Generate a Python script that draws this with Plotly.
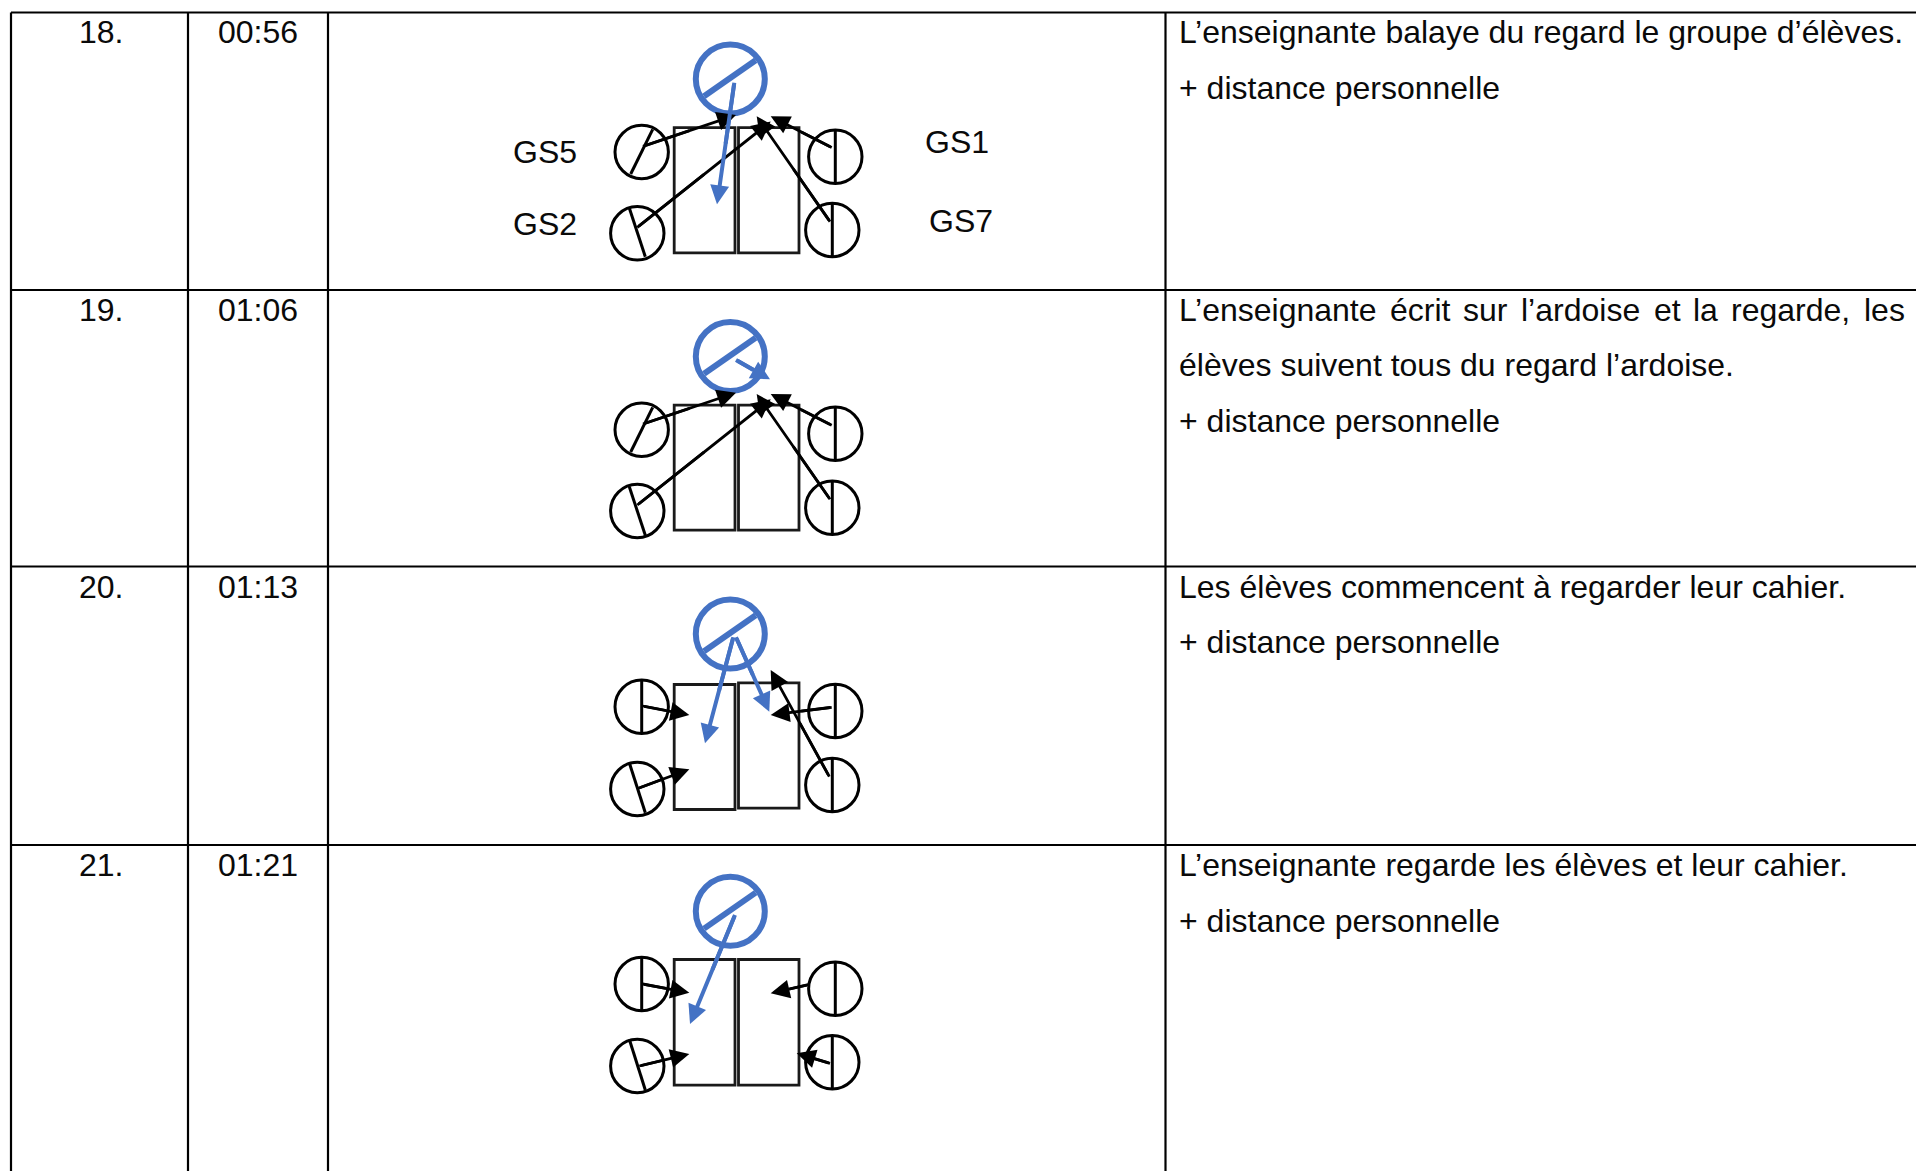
import plotly.graph_objects as go

W, H = 1916, 1171
BLACK = "#000000"
BLUE = "#4472C4"
FONT = "Liberation Sans"
FS = 32

# table frame
col_x = [11, 188, 328, 1165.5]
row_y = [12.5, 290, 566.5, 845]

# cell text
numbers = ["18.", "19.", "20.", "21."]
times = ["00:56", "01:06", "01:13", "01:21"]
id_y = [32, 310, 587, 865]
id_x = [100.5, 257.7]

text_x = 1176.5
plain_lines = [
    ("L\u2019enseignante balaye du regard le groupe d\u2019\u00e9l\u00e8ves.", 32),
    ("+ distance personnelle", 88),
    ("\u00e9l\u00e8ves suivent tous du regard l\u2019ardoise.", 365),
    ("+ distance personnelle", 421),
    ("Les \u00e9l\u00e8ves commencent \u00e0 regarder leur cahier.", 587),
    ("+ distance personnelle", 642),
    ("L\u2019enseignante regarde les \u00e9l\u00e8ves et leur cahier.", 865),
    ("+ distance personnelle", 921),
]
just_words = ["L\u2019enseignante", "\u00e9crit", "sur", "l\u2019ardoise", "et", "la", "regarde,", "les"]
just_x = [1176.5, 1387.5, 1461, 1518.5, 1651.5, 1691, 1729, 1861.5]
just_y = 310

gs_labels = ["GS5", "GS2", "GS1", "GS7"]
gs_x = [545.3, 545.3, 956.5, 961]
gs_y = [152, 223.5, 141.7, 220.5]

# tables (rectangles): x0, x1 shared; y0, y1 per diagram
left_table_x = (674.2, 735)
right_table_x = (738.5, 799)
left_table_y = [(127.6, 252.9), (405.2, 530.2), (684.5, 809.5), (959.5, 1085.2)]
right_table_y = [(127.6, 252.9), (405.2, 530.2), (682.9, 808.2), (959.5, 1085.2)]

# teacher
teacher_cx = 730.3
teacher_cy = [79, 356.5, 634, 911.3]
teacher_r = 34.5
teacher_bar_dx = (-26.3, 25.4)
teacher_bar_dy = (17.3, -18.7)

# pupils: centre x per pupil, centre y per diagram
pupil_r = 26.7
pupil_cx = [641.7, 637.3, 835.3, 832.3]
pupil_cy = [
    [152, 233.3, 156.7, 230],
    [429.7, 511, 433.7, 507.7],
    [706.7, 789, 711, 785],
    [984, 1066, 988.7, 1062.3],
]
# body line of each pupil circle per diagram (x0, y0, x1, y1)
pupil_bars = [
    [(652.7, 129.3, 630.7, 174), (629.3, 208, 645.3, 256.7), (835.3, 130, 835.3, 183), (832.3, 204, 832.3, 256.7)],
    [(652.7, 407.3, 630.7, 452), (629.3, 486.7, 645.3, 535.3), (835.3, 407.3, 835.3, 460.7), (832.3, 481.7, 832.3, 534.3)],
    [(641.7, 680, 641.7, 733.3), (629.3, 762.7, 645.3, 812.7), (835.3, 685, 835.3, 738), (832.3, 759, 832.3, 811.7)],
    [(641.7, 957.3, 641.7, 1010), (629.3, 1039.3, 645.3, 1090), (835.3, 962, 835.3, 1015), (832.3, 1035.3, 832.3, 1088)],
]

# gaze arrows: (from x, from y, to x, to y)
black_arrows = [
    [(643, 146.3, 736, 115), (637.3, 227.3, 770.7, 121.6), (830, 221.6, 756.7, 116.3), (831.7, 147.6, 770.7, 116.3)],
    [(643, 424, 736, 392.7), (637.3, 505, 770.7, 399.3), (830, 499.3, 756.7, 394), (831.7, 425.3, 770.7, 394)],
    [(642.7, 706, 689.3, 715), (638.3, 788.3, 689.3, 769.3), (831.7, 707.3, 770.7, 715), (829.3, 776.7, 770.7, 670)],
    [(642.7, 984, 689.3, 992.7), (639.3, 1066, 689.3, 1054), (808.3, 984.7, 770.7, 993.3), (830, 1063.3, 796.7, 1053.3)],
]
blue_arrows = [
    [(734.3, 82.7, 717, 204.3)],
    [(736, 360, 770, 379.3)],
    [(733.3, 637.3, 705, 743.3), (736, 637.3, 769.3, 711.7)],
    [(735, 915, 690, 1024)],
]

fig = go.Figure()
shapes, annos = [], []


def line(x0, y0, x1, y1, color=BLACK, width=2.0):
    shapes.append(dict(type="line", xref="x", yref="y", x0=x0, y0=y0, x1=x1, y1=y1,
                       line=dict(color=color, width=width)))


def arrow(x0, y0, x1, y1, color, width, size):
    # plain stem reaching the start point, since annotation arrows stop short of it
    line(x0, y0, x0 + (x1 - x0) * 0.5, y0 + (y1 - y0) * 0.5, color=color, width=width)
    annos.append(dict(x=x1, y=y1, ax=x0, ay=y0, xref="x", yref="y", axref="x", ayref="y", text="",
                      showarrow=True, arrowhead=2, arrowsize=size, arrowwidth=width, arrowcolor=color,
                      standoff=0, startstandoff=0))


def text(x, y, s, anchor="left"):
    annos.append(dict(x=x, y=y, xref="x", yref="y", text=s, showarrow=False, xanchor=anchor, yanchor="middle",
                      align=anchor, font=dict(family=FONT, size=FS, color="#0a0a0a")))


# grid
for x in col_x:
    line(x, row_y[0], x, H + 5, width=2.2)
for y in row_y:
    line(col_x[0], y, W + 5, y, width=2.2)

for i in range(4):
    for (tx, ty) in [(left_table_x, left_table_y[i]), (right_table_x, right_table_y[i])]:
        shapes.append(dict(type="rect", xref="x", yref="y", x0=tx[0], x1=tx[1], y0=ty[0], y1=ty[1],
                           line=dict(color="#1a1a1a", width=2.8)))
    for j in range(4):
        cx, cy = pupil_cx[j], pupil_cy[i][j]
        shapes.append(dict(type="circle", xref="x", yref="y", x0=cx - pupil_r, x1=cx + pupil_r,
                           y0=cy - pupil_r, y1=cy + pupil_r, line=dict(color=BLACK, width=3)))
        b = pupil_bars[i][j]
        line(b[0], b[1], b[2], b[3], width=3)
    cy = teacher_cy[i]
    shapes.append(dict(type="circle", xref="x", yref="y", x0=teacher_cx - teacher_r, x1=teacher_cx + teacher_r,
                       y0=cy - teacher_r, y1=cy + teacher_r, line=dict(color=BLUE, width=6)))
    line(teacher_cx + teacher_bar_dx[0], cy + teacher_bar_dy[0], teacher_cx + teacher_bar_dx[1],
         cy + teacher_bar_dy[1], color=BLUE, width=6)
    for a in black_arrows[i]:
        arrow(*a, BLACK, 2.8, 1.35)
    for a in blue_arrows[i]:
        arrow(*a, BLUE, 4, 0.95)
    text(id_x[0], id_y[i], numbers[i], "center")
    text(id_x[1], id_y[i], times[i], "center")

for s, y in plain_lines:
    text(text_x, y, s)
for s, x in zip(just_words, just_x):
    text(x, just_y, s)
for s, x, y in zip(gs_labels, gs_x, gs_y):
    text(x, y, s, "center")

fig.update_layout(
    width=W, height=H, margin=dict(l=0, r=0, t=0, b=0, pad=0),
    paper_bgcolor="white", plot_bgcolor="white", showlegend=False,
    xaxis=dict(range=[0, W], visible=False, fixedrange=True),
    yaxis=dict(range=[H, 0], visible=False, fixedrange=True),
    shapes=shapes, annotations=annos,
)
fig.write_html("out.html", config={"displayModeBar": False},
               post_script="document.body.style.margin='0';document.documentElement.style.overflow='hidden';")
